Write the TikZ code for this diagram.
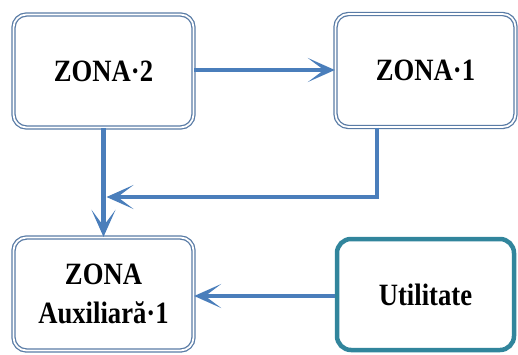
\documentclass[tikz,border=0pt]{standalone}
\usepackage{fontspec}
\setmainfont{Liberation Serif}
\usetikzlibrary{arrows.meta}
\definecolor{arrblue}{HTML}{4A7EBB}
\definecolor{boxblue}{HTML}{5A7CA6}
\definecolor{tealc}{HTML}{31859C}
\newcommand{\nrw}[1]{\scalebox{0.86}[1]{#1}}
\tikzset{
  zbox/.style={draw=boxblue, line width=1.3pt, double=white, double distance=1.8pt,
    rounded corners=13pt, minimum width=180pt, minimum height=113pt, fill=white,
    font=\bfseries\fontsize{31}{39}\selectfont, align=center, inner sep=0pt},
  ubox/.style={draw=tealc, line width=4.5pt, rounded corners=14pt,
    minimum width=177pt, minimum height=111pt, fill=white,
    font=\bfseries\fontsize{31}{39}\selectfont, align=center, inner sep=0pt},
  arr/.style={draw=arrblue, line width=4.8pt,
    -{Stealth[length=27pt, width=24pt, inset=16pt]}},
}
\begin{document}
\begin{tikzpicture}[x=1pt,y=1pt]
\useasboundingbox (0,0) rectangle (518,-354);
\node[zbox] (z2) at (103.5,-71) {\nrw{ZONA·2}};
\node[zbox] (z1) at (425.5,-70.5) {\nrw{ZONA·1}};
\node[zbox] (aux) at (103.5,-294) {\nrw{ZONA}\\\nrw{Auxiliară·1}};
\node[ubox] (ut) at (425.5,-294.5) {\nrw{Utilitate}};
\coordinate (j) at (106.5,-197);
\draw[arr] (z2.east |- 0,-70) -- (z1.west |- 0,-70);
\draw[arr] (z2.south) -- (aux.north);
\draw[arr] (z1.south -| 377,0) |- (j);
\draw[arr] (ut.west |- 0,-296) -- (aux.east |- 0,-296);
\end{tikzpicture}
\end{document}
